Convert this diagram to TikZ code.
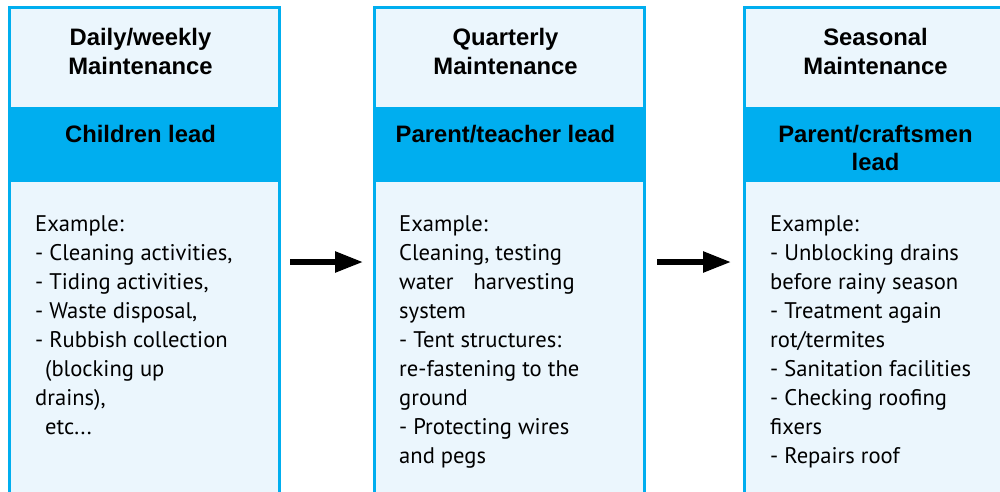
\documentclass[tikz,border=0pt]{standalone}
\usepackage{fontspec}
\newfontfamily\hdrfont{Liberation Sans}
\newfontfamily\bodyfont{PT Sans}
\usetikzlibrary{arrows.meta}
\definecolor{bordercyan}{RGB}{0,174,239}
\definecolor{palefill}{RGB}{235,246,253}
\tikzset{
  colbox/.style={draw=bordercyan, fill=palefill, line width=3pt, minimum width=270pt, minimum height=512.5pt, inner sep=0pt},
  bandfill/.style={fill=bordercyan},
  hdr/.style={font=\hdrfont\bfseries\fontsize{23.8}{28.5}\selectfont, align=center, anchor=base, inner sep=0pt},
  bodytxt/.style={font=\bodyfont\fontsize{22.6}{29}\selectfont, align=left, anchor=base west, inner sep=0pt},
  flowarrow/.style={line width=5.5pt, -{Triangle[length=28pt,width=20pt]}}
}
\begin{document}
\begin{tikzpicture}[x=1pt,y=-1pt]
\useasboundingbox (0,0) rectangle (1000,491);
\clip (0,0) rectangle (1000,491);
% columns
\node[colbox] (c1) at (144.5,263.75) {};
\node[colbox] (c2) at (509.5,263.75) {};
\node[colbox] (c3) at (879.5,263.75) {};
% bands
\fill[bandfill] (8,107) rectangle (281,182);
\fill[bandfill] (373,107) rectangle (646,182);
\fill[bandfill] (743,107) rectangle (1016,182);
% headers (anchor is the baseline of the last line)
\node[hdr] (h1) at (140.5,74) {Daily/weekly\\Maintenance};
\node[hdr] (h2) at (505.5,74) {Quarterly\\Maintenance};
\node[hdr] (h3) at (875.5,74) {Seasonal\\Maintenance};
\node[hdr] (l1) at (140.5,142) {Children lead};
\node[hdr] (l2) at (505.5,142) {Parent/teacher lead};
\node[hdr] (l3) at (875.5,170.5) {Parent/craftsmen\\lead};
% bodies
\node[bodytxt] (t1) at (35,434) {Example:\\- Cleaning activities,\\- Tiding activities,\\- Waste disposal,\\- Rubbish collection\\\hspace*{10pt}(blocking up\\drains),\\\hspace*{10pt}etc...};
\node[bodytxt] (t2) at (399,463) {Example:\\Cleaning, testing\\water\hspace*{20pt}harvesting\\system\\- Tent structures:\\re-fastening to the\\ground\\- Protecting wires\\and pegs};
\node[bodytxt] (t3) at (770,463) {Example:\\- Unblocking drains\\before rainy season\\- Treatment again\\rot/termites\\- Sanitation facilities\\- Checking roofing\\fixers\\- Repairs roof};
% arrows
\draw[flowarrow] (c1.east |- 0,262) ++(9,0) coordinate (a1s) -- ([xshift=-10pt]c2.west |- a1s);
\draw[flowarrow] (c2.east |- 0,262) ++(11,0) coordinate (a2s) -- ([xshift=-12pt]c3.west |- a2s);
\end{tikzpicture}
\end{document}
